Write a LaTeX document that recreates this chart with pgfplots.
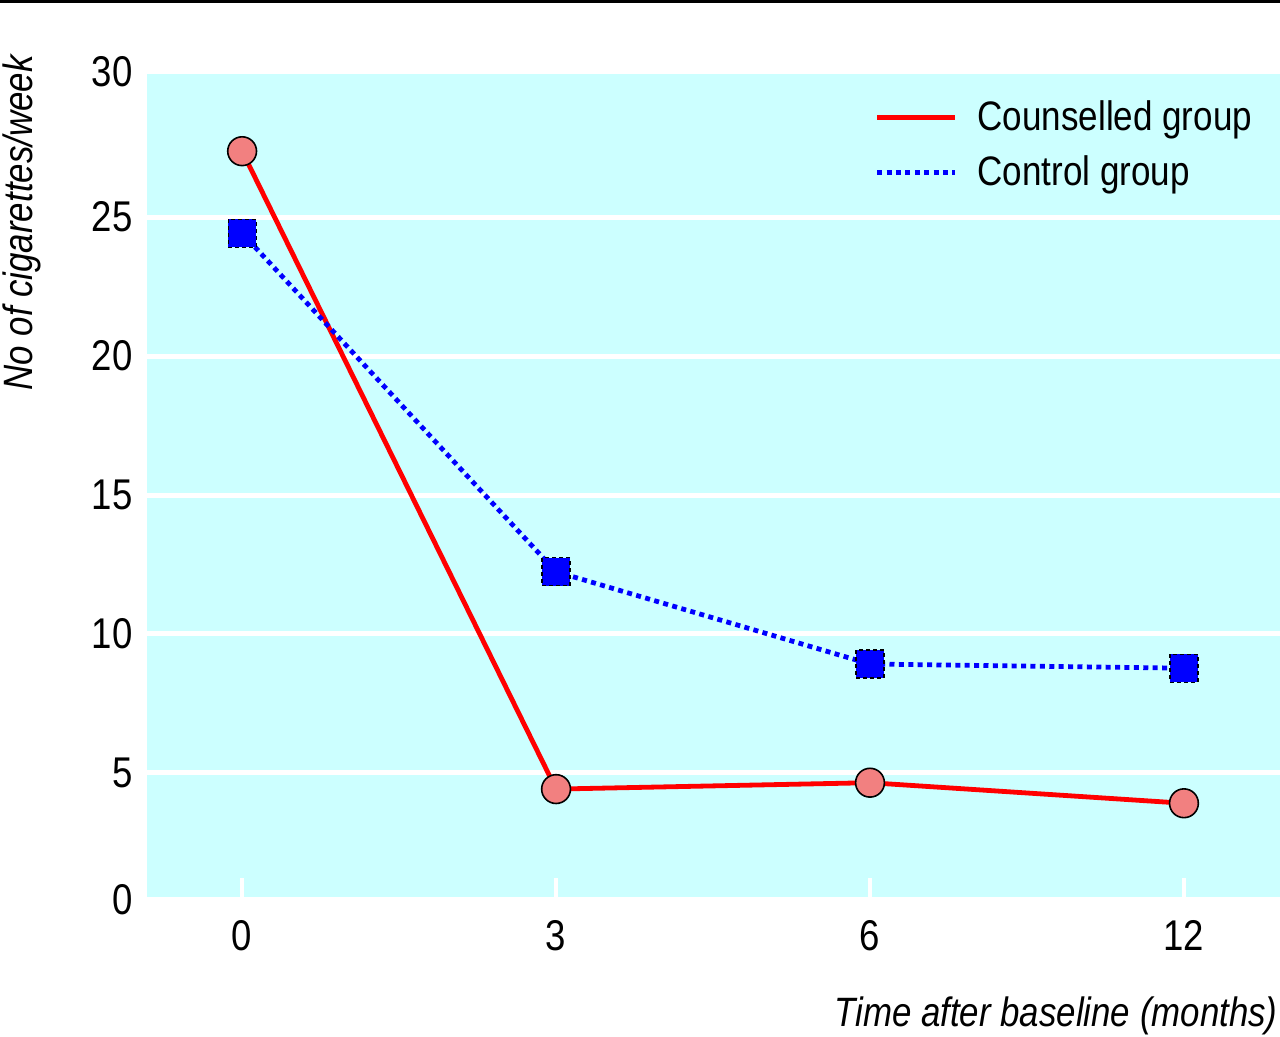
\documentclass[border=0pt]{standalone}
\usepackage{pgfplots}
\pgfplotsset{compat=1.18}
\usepackage{fontspec}
\setmainfont{Liberation Sans}[FakeStretch=0.85]
\definecolor{bgc}{HTML}{CCFFFF}
\definecolor{cred}{HTML}{FF0000}
\definecolor{cblue}{HTML}{0000FF}
\definecolor{cfill}{HTML}{F28080}
\begin{document}
\begin{tikzpicture}
\path[use as bounding box] (0,0) rectangle (640pt,518.5pt);
\draw[line width=1.6pt] (0,517.7pt) -- (640pt,517.7pt);
\begin{axis}[
  at={(73.5pt,68.5pt)}, anchor=south west,
  scale only axis, width=566.5pt, height=414pt,
  xmin=-0.303, xmax=3.306, ymin=0.43, ymax=30.22,
  axis background/.style={fill=bgc},
  axis line style={draw=none},
  xtick={0,1,2,3}, xticklabels={0,3,6,12},
  ytick={0.43,5,10,15,20,25,30.22}, yticklabels={0,5,10,15,20,25,30},
  ymajorgrids, grid style={white, line width=2.5pt},
  xtick pos=bottom, ytick pos=left,
  tick align=inside, major tick length=11pt,
  xtick style={white, line width=2pt},
  ytick style={draw=none},
  /pgf/number format/assume math mode=true,
  ticklabel style={font=\fontsize{21.5}{24}\selectfont},
  yticklabel style={inner sep=0pt, anchor=east, xshift=-7pt},
  xticklabel style={inner sep=0pt, anchor=north, yshift=-10pt},
  legend cell align=left,
  legend style={at={(rel axis cs:0.642,0.968)}, anchor=north west, draw=none, fill=none,
    font=\fontsize{20.6}{24}\selectfont, row sep=9pt, inner sep=0pt,
    nodes={inner sep=1pt}},
  legend image code/.code={\draw[#1, mark=none] (0pt,0pt) -- (39pt,0pt);},
  clip=false,
]
\addplot[cred, line width=2.4pt, mark=*, mark size=7.2pt,
  mark options={solid, draw=black, line width=0.8pt, fill=cfill}]
  coordinates {(0,27.37) (1,4.42) (2,4.65) (3,3.91)};
\addlegendentry{\hspace{9pt}Counselled group}
\addplot[cblue, line width=2.4pt, dash pattern=on 2.5pt off 2.2pt, mark=square*, mark size=7pt,
  mark options={draw=black, line width=0.6pt, fill=cblue, dash pattern=on 2pt off 1.5pt}]
  coordinates {(0,24.42) (1,12.24) (2,8.92) (3,8.77)};
\addlegendentry{\hspace{9pt}Control group}
\end{axis}
\node[rotate=90, anchor=base east, inner sep=0pt, font=\fontsize{20.5}{24}\selectfont\itshape]
  at (16pt,491pt) {No of cigarettes/week};
\node[anchor=base east, inner sep=0pt, font=\fontsize{20.5}{24}\selectfont\itshape]
  at (639pt,5pt) {Time after baseline (months)};
\end{tikzpicture}
\end{document}
